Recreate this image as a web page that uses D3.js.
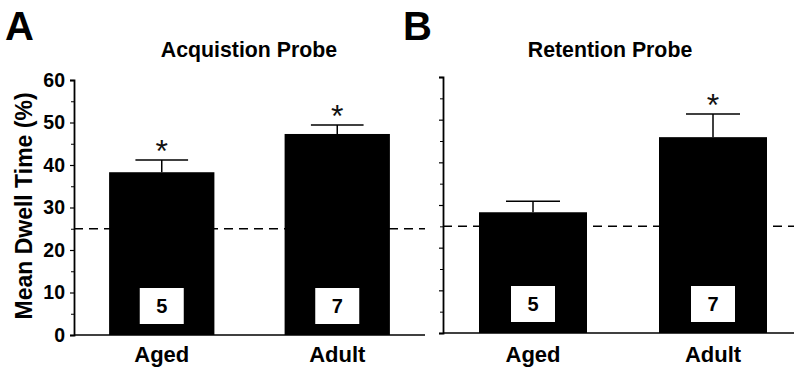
<!DOCTYPE html>
<html><head><meta charset="utf-8">
<script src="https://cdn.jsdelivr.net/npm/d3@7"></script>
<style>
html,body{margin:0;padding:0;background:#fff;}
svg{display:block;}
text{font-family:"Liberation Sans",Arial,sans-serif;}
</style></head>
<body>
<svg id="chart" width="794" height="367"></svg>
<script>
// ---- data ----
const categories = ["Aged", "Adult"];
const acquisitionMeans = [38.3, 47.3];
const acquisitionSEM = [2.9, 2.1];
const acquisitionSignificant = [true, true];
const retentionMeans = [28.3, 45.9];
const retentionSEM = [2.6, 5.4];
const retentionSignificant = [false, true];
const sampleSizes = [5, 7];
const yTickValues = [0, 10, 20, 30, 40, 50, 60];
const yMinorTickValues = [5, 15, 25, 35, 45, 55];
const chanceLevel = 25;
const panelLetters = ["A", "B"];
const panelTitles = ["Acquistion Probe", "Retention Probe"];
const yAxisTitle = "Mean Dwell Time (%)";

const svg = d3.select("#chart");

const panels = [
  {letter: panelLetters[0], title: panelTitles[0], means: acquisitionMeans, sem: acquisitionSEM, sig: acquisitionSignificant,
   x0: 74, x1: 425, yBottom: 335, yTop: 80, titleX: 249, letterX: 5, labels: true},
  {letter: panelLetters[1], title: panelTitles[1], means: retentionMeans, sem: retentionSEM, sig: retentionSignificant,
   x0: 443, x1: 803, yBottom: 333, yTop: 77, titleX: 610, letterX: 403, labels: false}
];

panels.forEach(p => {
  const x = d3.scaleBand().domain(categories).range([p.x0, p.x1]).paddingInner(0.4).paddingOuter(0.2);
  const y = d3.scaleLinear().domain([0, 60]).range([p.yBottom, p.yTop]);
  const g = svg.append("g");

  // panel letter
  g.append("text").attr("x", p.letterX).attr("y", 40)
    .attr("font-size", 40).attr("font-weight", "bold").text(p.letter);
  // title
  g.append("text").attr("x", p.titleX).attr("y", 57).attr("text-anchor", "middle")
    .attr("font-size", 21.3).attr("font-weight", "bold").text(p.title);

  // chance line
  g.append("line").attr("x1", p.x0).attr("x2", p.x1)
    .attr("y1", y(chanceLevel)).attr("y2", y(chanceLevel))
    .attr("stroke", "#000").attr("stroke-width", 1.5).attr("stroke-dasharray", "9,6");

  const rows = categories.map((c, i) => ({c, m: p.means[i], s: p.sem[i], sig: p.sig[i], n: sampleSizes[i]}));

  // error bars
  rows.forEach(d => {
    const cx = x(d.c) + x.bandwidth() / 2;
    const capW = x.bandwidth() * 0.5;
    g.append("line").attr("x1", cx).attr("x2", cx).attr("y1", y(d.m)).attr("y2", y(d.m + d.s))
      .attr("stroke", "#000").attr("stroke-width", 1.5);
    g.append("line").attr("x1", cx - capW / 2).attr("x2", cx + capW / 2)
      .attr("y1", y(d.m + d.s)).attr("y2", y(d.m + d.s))
      .attr("stroke", "#000").attr("stroke-width", 1.5);
    if (d.sig) {
      g.append("text").attr("x", cx).attr("y", y(d.m + d.s) - 17 + 0.59 * 32)
        .attr("text-anchor", "middle").attr("font-size", 32).attr("font-family", "DejaVu Sans")
        .attr("fill", "#111").text("*");
    }
  });

  // bars
  g.selectAll("rect.bar").data(rows).join("rect").attr("class", "bar")
    .attr("x", d => x(d.c)).attr("width", x.bandwidth())
    .attr("y", d => y(d.m)).attr("height", d => y(0) - y(d.m))
    .attr("fill", "#000");

  // n boxes
  rows.forEach(d => {
    const cx = x(d.c) + x.bandwidth() / 2;
    g.append("rect").attr("x", cx - 22).attr("width", 44)
      .attr("y", y(0) - 47).attr("height", 36).attr("fill", "#fff");
    g.append("text").attr("x", cx).attr("y", y(0) - 22).attr("text-anchor", "middle")
      .attr("font-size", 20).attr("font-weight", "bold").text(d.n);
  });

  // baseline
  g.append("line").attr("x1", p.x0).attr("x2", p.x1).attr("y1", y(0)).attr("y2", y(0))
    .attr("stroke", "#000").attr("stroke-width", 1.5);

  // y axis
  const axis = d3.axisLeft(y).tickValues(yTickValues).tickSize(4).tickPadding(5)
    .tickFormat(p.labels ? d3.format("d") : () => "");
  const ag = g.append("g").attr("transform", `translate(${p.x0},0)`).call(axis);
  ag.select(".domain").attr("stroke-width", 1.8);
  ag.selectAll(".tick line").attr("stroke-width", 1.2);
  ag.selectAll(".tick text").attr("font-family", "Liberation Sans").attr("font-size", 19.5)
    .attr("font-weight", "bold").attr("fill", "#000");
  const mg = g.append("g").attr("transform", `translate(${p.x0},0)`)
    .call(d3.axisLeft(y).tickValues(yMinorTickValues).tickSize(3).tickFormat(() => ""));
  mg.select(".domain").remove();

  // x labels
  g.selectAll("text.xl").data(categories).join("text").attr("class", "xl")
    .attr("x", c => x(c) + x.bandwidth() / 2).attr("y", 362)
    .attr("text-anchor", "middle").attr("font-size", 22).attr("font-weight", "bold").text(c => c);
});

// y-axis title
svg.append("text").attr("transform", "translate(32,206) rotate(-90)")
  .attr("text-anchor", "middle").attr("font-size", 23).attr("font-weight", "bold").text(yAxisTitle);
</script>
</body></html>
